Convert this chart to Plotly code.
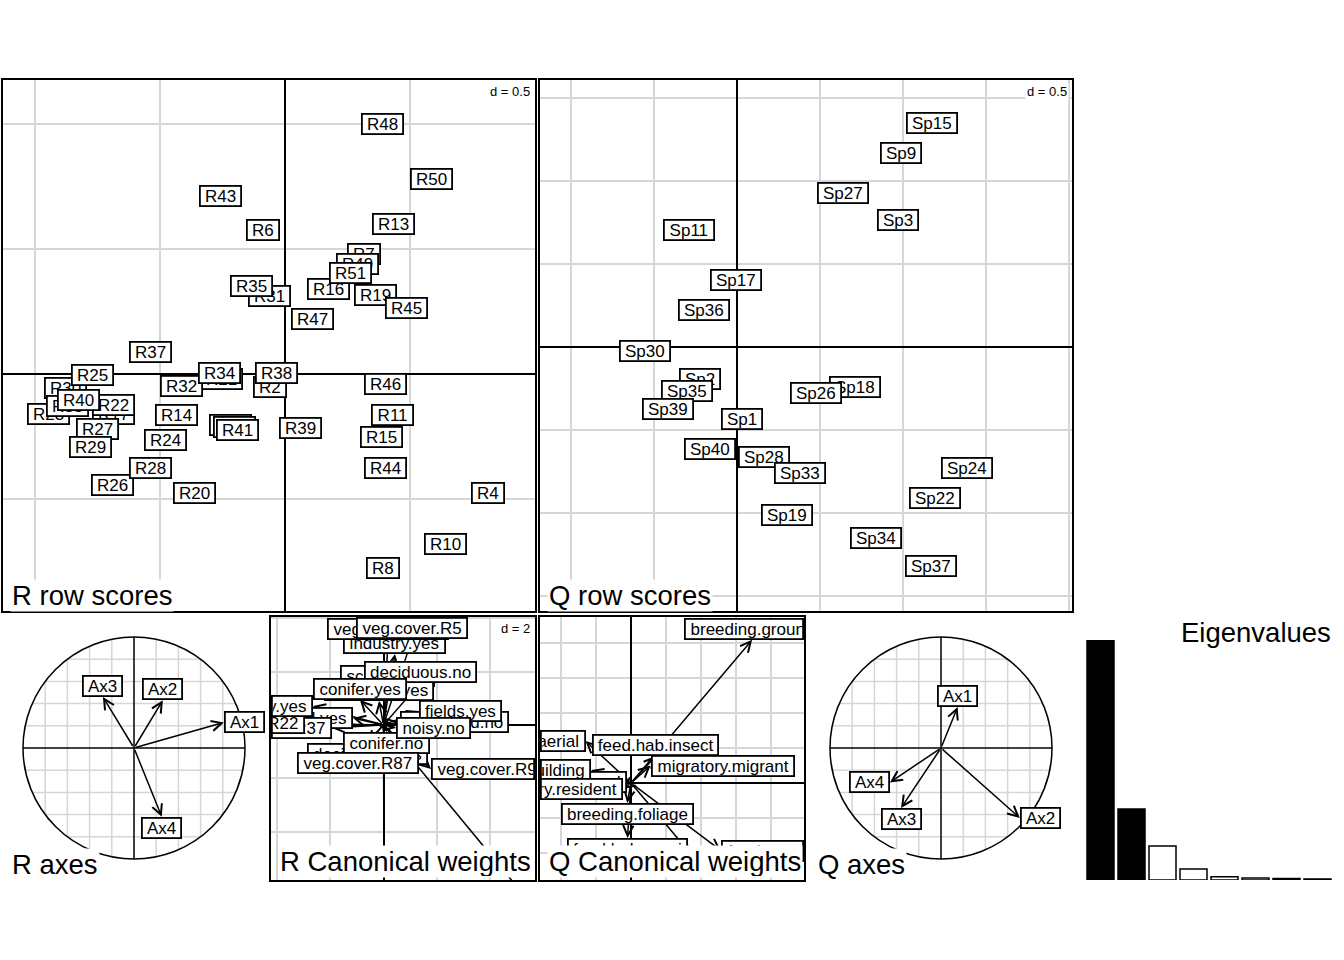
import plotly.graph_objects as go

W, H = 1344, 960
FONT = "Liberation Sans, Arial, Helvetica, sans-serif"
GRID = "#d6d6d6"

# ---------------------------------------------------------------- data
r_row_labels = ["R2", "R4", "R6", "R7", "R8", "R10", "R11", "R12", "R13", "R14",
                "R15", "R16", "R17", "R18", "R19", "R20", "R21", "R22", "R23", "R24",
                "R30", "R25", "R26", "R27", "R28", "R29", "R31", "R32", "R33", "R34",
                "R35", "R37", "R38", "R39", "R40", "R41", "R43", "R44", "R45", "R46",
                "R47", "R48", "R49", "R50", "R51"]
r_row_x = [-0.060, 0.812, -0.088, 0.316, 0.392, 0.640, 0.428, -0.220, 0.432, -0.436,
           0.384, 0.172, -0.688, -0.204, 0.360, -0.364, -0.256, -0.688, -0.948, -0.480,
           -0.880, -0.772, -0.692, -0.752, -0.540, -0.780, -0.064, -0.416, -0.872, -0.264,
           -0.136, -0.540, -0.036, 0.060, -0.828, -0.192, -0.260, 0.400, 0.484, 0.400,
           0.108, 0.388, 0.288, 0.584, 0.260]
r_row_y = [-0.052, -0.476, 0.576, 0.480, -0.776, -0.680, -0.164, -0.204, 0.600, -0.164,
           -0.252, 0.340, -0.160, -0.212, 0.316, -0.476, -0.020, -0.124, -0.160, -0.264,
           -0.056, -0.004, -0.444, -0.220, -0.376, -0.292, 0.312, -0.048, -0.128, 0.004,
           0.352, 0.088, 0.004, -0.216, -0.104, -0.224, 0.712, -0.376, 0.264, -0.040,
           0.220, 1.000, 0.440, 0.780, 0.404]

q_row_labels = ["Sp1", "Sp2", "Sp3", "Sp9", "Sp11", "Sp15", "Sp17", "Sp18", "Sp19", "Sp22",
                "Sp24", "Sp26", "Sp27", "Sp28", "Sp30", "Sp33", "Sp34", "Sp35", "Sp36", "Sp37",
                "Sp39", "Sp40"]
q_row_x = [0.030, -0.223, 0.970, 0.988, -0.289, 1.175, -0.006, 0.711, 0.301, 1.193,
           1.386, 0.476, 0.639, 0.163, -0.554, 0.380, 0.837, -0.301, -0.199, 1.169,
           -0.416, -0.163]
q_row_y = [-0.434, -0.193, 0.765, 1.169, 0.705, 1.349, 0.404, -0.241, -1.012, -0.910,
           -0.729, -0.277, 0.928, -0.663, -0.024, -0.759, -1.151, -0.265, 0.223, -1.319,
           -0.373, -0.614]

r_axes_labels = ["Ax1", "Ax2", "Ax3", "Ax4"]
r_axes_x = [0.81, 0.26, -0.28, 0.25]
r_axes_y = [0.23, 0.43, 0.46, -0.62]

q_axes_labels = ["Ax1", "Ax2", "Ax3", "Ax4"]
q_axes_x = [0.15, 0.71, -0.36, -0.46]
q_axes_y = [0.37, -0.63, -0.54, -0.31]

r_cw_labels = ["industry.yes", "veg.cover.R10", "veg.cover.R5", "scrubby.no", "small.bui.yes",
               "deciduous.no", "conifer.yes", "grassland.yes", "veg.cover.R37", "veg.cover.R22",
               "scrubby.yes", "grassland.no", "fields.yes", "deciduous.yes", "conifer.no",
               "noisy.no", "veg.cover.R87", "veg.cover.R98", "high.bui.yes", "veg.cover.R60"]
r_cw_x = [0.43, 0.17, 1.07, 0.15, -0.17, 1.37, -0.88, -1.14, -1.93, -2.94,
          -2.64, 0.62, 1.33, -0.60, 0.13, 0.47, -0.96, 1.78, 0.02, 5.20]
r_cw_y = [2.66, 3.18, 3.22, 1.42, 0.90, 1.57, 0.94, 0.26, -0.11, 0.07,
          0.71, 0.11, 0.52, -0.67, -0.26, -0.11, -1.01, -1.65, -6.50, -6.30]

q_cw_labels = ["feed.strat.ground", "breeding.building", "feed.strat.aerial", "migratory.resident",
               "breeding.foliage", "feed.hab.grani", "breeding.scrub", "feed.strat.foliage",
               "breeding.ground", "feed.hab.insect", "migratory.migrant"]
q_cw_x = [-0.11, -1.14, -1.30, -0.23, -0.11, -0.10, 1.69, 2.57, 3.46, 0.71, 0.56]
q_cw_y = [0.04, 0.37, 1.20, -0.17, -0.57, -1.57, -2.00, -1.93, 4.09, 0.77, 0.50]

eigenvalues = [2.581, 0.763, 0.366, 0.118, 0.034, 0.021, 0.016, 0.011]
n_kept = 2

# ---------------------------------------------------------------- layout geometry
PANELS = {
    "rrow":  dict(ax="x",  ay="y",  frame=(3, 535, 80, 611),    origin=(285, 374),   ppu=250,  grid=0.5),
    "qrow":  dict(ax="x2", ay="y2", frame=(540, 1072, 80, 611), origin=(737, 347),   ppu=166,  grid=0.5),
    "raxes": dict(ax="x3", ay="y3", frame=(0, 269, 614, 883),   origin=(134, 748),   ppu=111,  grid=None),
    "rcw":   dict(ax="x4", ay="y4", frame=(271, 535, 617, 880), origin=(383.5, 725), ppu=26.7, grid=2),
    "qcw":   dict(ax="x5", ay="y5", frame=(540, 804, 617, 880), origin=(631, 783),   ppu=35,   grid=1),
    "qaxes": dict(ax="x6", ay="y6", frame=(806, 1075, 614, 883), origin=(941, 748),  ppu=111,  grid=None),
}

AFM = {c: 0.556 for c in "abdeghnopqu0123456789"}
AFM.update({"c": 0.5, "f": 0.278, "i": 0.222, "j": 0.222, "k": 0.5, "l": 0.222, "m": 0.833,
            "r": 0.333, "s": 0.5, "t": 0.278, "v": 0.5, "w": 0.722, "x": 0.5, "y": 0.5, "z": 0.5,
            "A": 0.667, "R": 0.722, "S": 0.667, "Q": 0.778, "E": 0.667, "C": 0.722,
            ".": 0.278, " ": 0.278, "=": 0.584})


def text_w(s, size):
    return sum(AFM.get(c, 0.556) for c in s) * size


def axname(ref):
    return ref[0] + "axis" + ref[1:]


LBL = 17
BW = 1.8
BOX_H = 22

layout = dict(width=W, height=H, autosize=False, margin=dict(l=0, r=0, t=0, b=0),
              paper_bgcolor="white", plot_bgcolor="white", showlegend=False,
              font=dict(family=FONT, color="black"))

traces = []
shapes = []
ann_d, ann_arrows, ann_labels, ann_titles = [], [], [], []

for key, p in PANELS.items():
    x0, x1, y0, y1 = p["frame"]
    ox, oy = p["origin"]
    s = p["ppu"]
    xa = dict(domain=[x0 / W, x1 / W], range=[(x0 - ox) / s, (x1 - ox) / s], anchor=p["ay"],
              fixedrange=True, showticklabels=False, ticks="")
    ya = dict(domain=[(H - y1) / H, (H - y0) / H], range=[(oy - y1) / s, (oy - y0) / s], anchor=p["ax"],
              fixedrange=True, showticklabels=False, ticks="")
    if p["grid"]:
        common = dict(showgrid=True, gridcolor=GRID, gridwidth=1.8, tick0=0, dtick=p["grid"],
                      zeroline=True, zerolinecolor="black", zerolinewidth=1.5,
                      showline=True, mirror=True, linecolor="black", linewidth=1.5)
    else:
        common = dict(visible=False)
    layout[axname(p["ax"])] = {**xa, **common}
    layout[axname(p["ay"])] = {**ya, **common}
    traces.append(go.Scatter(x=[None], y=[None], xaxis=p["ax"], yaxis=p["ay"], mode="markers",
                             hoverinfo="skip"))


def box_label(p, x, y, text, xanchor="center", yanchor="middle"):
    ox, oy = p["origin"]
    s = p["ppu"]
    px, py = ox + x * s, oy - y * s
    w = text_w(text, LBL) + 12
    h = BOX_H
    bx0 = px - w / 2 if xanchor == "center" else (px if xanchor == "left" else px - w)
    by0 = py - h / 2 if yanchor == "middle" else (py - h if yanchor == "bottom" else py)
    bx1, by1 = bx0 + w, by0 + h
    fx0, fx1, fy0, fy1 = p["frame"]
    cx0, cx1 = max(bx0, fx0), min(bx1, fx1)
    cy0, cy1 = max(by0, fy0), min(by1, fy1)
    if cx1 - cx0 < 3 or cy1 - cy0 < 3:
        return None
    align, t = "center", text
    if bx0 < fx0 and bx1 <= fx1:
        align, t = "right", text + "&nbsp;"
    elif bx1 > fx1 and bx0 >= fx0:
        align, t = "left", "&nbsp;" + text
    valign = "middle"
    if by0 < fy0:
        valign = "bottom"
    elif by1 > fy1:
        valign = "top"
    return dict(x=((cx0 + cx1) / 2 - ox) / s, y=(oy - (cy0 + cy1) / 2) / s,
                xref=p["ax"], yref=p["ay"], text=t, showarrow=False,
                xanchor="center", yanchor="middle",
                width=max(cx1 - cx0 - 2 * BW, 1), height=max(cy1 - cy0 - 2 * BW, 1),
                align=align, valign=valign, bgcolor="white", bordercolor="black",
                borderwidth=BW, borderpad=0, font=dict(size=LBL, color="black"))


def in_range(p, x, y):
    xr = layout[axname(p["ax"])]["range"]
    yr = layout[axname(p["ay"])]["range"]
    return xr[0] <= x <= xr[1] and yr[0] <= y <= yr[1]


def arrows(p, labels, xs, ys):
    for lab, dx, dy in zip(labels, xs, ys):
        if in_range(p, dx, dy):
            ann_arrows.append(dict(x=dx, y=dy, xref=p["ax"], yref=p["ay"], ax=0, ay=0,
                                   axref=p["ax"], ayref=p["ay"], text=" ", font=dict(size=1),
                                   showarrow=True, arrowhead=5, arrowsize=1.35, arrowwidth=1.5,
                                   arrowcolor="black", standoff=0, startstandoff=0))
        else:
            traces.append(go.Scatter(x=[0, dx], y=[0, dy], xaxis=p["ax"], yaxis=p["ay"],
                                     mode="lines", line=dict(color="black", width=1.5),
                                     hoverinfo="skip"))
        if abs(dx) > abs(dy):
            xa_, ya_ = ("left" if dx > 0 else "right"), "middle"
        else:
            xa_, ya_ = "center", ("bottom" if dy > 0 else "top")
        a = box_label(p, dx, dy, lab, xa_, ya_)
        if a:
            ann_labels.append(a)


def circle_panel(p):
    ax, ay = p["ax"], p["ay"]
    gx, gy = [], []
    for k in range(-4, 5):
        if k == 0:
            continue
        g = k / 5
        h = (1 - g * g) ** 0.5
        gx += [g, g, None, -h, h, None]
        gy += [-h, h, None, g, g, None]
    traces.append(go.Scatter(x=gx, y=gy, xaxis=ax, yaxis=ay, mode="lines",
                             line=dict(color=GRID, width=1.5), hoverinfo="skip"))
    traces.append(go.Scatter(x=[-1, 1, None, 0, 0], y=[0, 0, None, -1, 1], xaxis=ax, yaxis=ay,
                             mode="lines", line=dict(color="black", width=1.5), hoverinfo="skip"))
    shapes.append(dict(type="circle", xref=ax, yref=ay, x0=-1, y0=-1, x1=1, y1=1,
                       line=dict(color="black", width=1.5)))


# ---- row scores
for key, labs, xs, ys in (("rrow", r_row_labels, r_row_x, r_row_y),
                          ("qrow", q_row_labels, q_row_x, q_row_y)):
    p = PANELS[key]
    for lab, x, y in zip(labs, xs, ys):
        a = box_label(p, x, y, lab)
        if a:
            ann_labels.append(a)

# ---- correlation circles
circle_panel(PANELS["raxes"])
circle_panel(PANELS["qaxes"])
arrows(PANELS["raxes"], r_axes_labels, r_axes_x, r_axes_y)
arrows(PANELS["qaxes"], q_axes_labels, q_axes_x, q_axes_y)

# ---- canonical weights
arrows(PANELS["rcw"], r_cw_labels, r_cw_x, r_cw_y)
arrows(PANELS["qcw"], q_cw_labels, q_cw_x, q_cw_y)

# ---- d = labels
for key in ("rrow", "qrow", "rcw", "qcw"):
    p = PANELS[key]
    x0, x1, y0, y1 = p["frame"]
    ann_d.append(dict(x=(x1 - 3) / W, y=1 - (y0 + 2) / H, xref="paper", yref="paper",
                      text="d = %g" % p["grid"], showarrow=False, xanchor="right", yanchor="top",
                      font=dict(size=13), bgcolor="white", borderpad=1))

# ---- eigenvalues
layout["xaxis7"] = dict(domain=[1085 / W, 1333 / W], range=[-0.5, len(eigenvalues) - 0.5],
                        anchor="y7", visible=False, fixedrange=True)
layout["yaxis7"] = dict(domain=[(H - 880) / H, (H - 640) / H], range=[0, max(eigenvalues)],
                        anchor="x7", visible=False, fixedrange=True)
traces.append(go.Bar(x=list(range(len(eigenvalues))), y=eigenvalues, xaxis="x7", yaxis="y7",
                     width=27 / 31,
                     marker=dict(color=["black" if i < n_kept else "white" for i in range(len(eigenvalues))],
                                 line=dict(color="black", width=1.5)),
                     hoverinfo="skip"))

# ---- titles
TS = 27.5
for key, text, dx in (("rrow", "R row scores", 7), ("qrow", "Q row scores", 7),
                      ("raxes", "R axes", 10), ("rcw", "R Canonical weights", 7),
                      ("qcw", "Q Canonical weights", 7), ("qaxes", "Q axes", 10)):
    x0, x1, y0, y1 = PANELS[key]["frame"]
    cy = y1 - 16 if key in ("rrow", "qrow") else y1 - 19
    ann_titles.append(dict(x=(x0 + dx) / W, y=1 - cy / H, xref="paper", yref="paper", text=text,
                           showarrow=False, xanchor="left", yanchor="middle",
                           font=dict(size=TS), bgcolor="white", borderpad=1,
                           height=29, valign="middle"))
ann_titles.append(dict(x=1333 / W, y=1 - 632 / H, xref="paper", yref="paper", text="Eigenvalues",
                       showarrow=False, xanchor="right", yanchor="middle", font=dict(size=TS)))

layout["annotations"] = ann_d + ann_arrows + ann_labels + ann_titles
layout["shapes"] = shapes

fig = go.Figure(data=traces, layout=layout)
fig.write_html("out.html")
